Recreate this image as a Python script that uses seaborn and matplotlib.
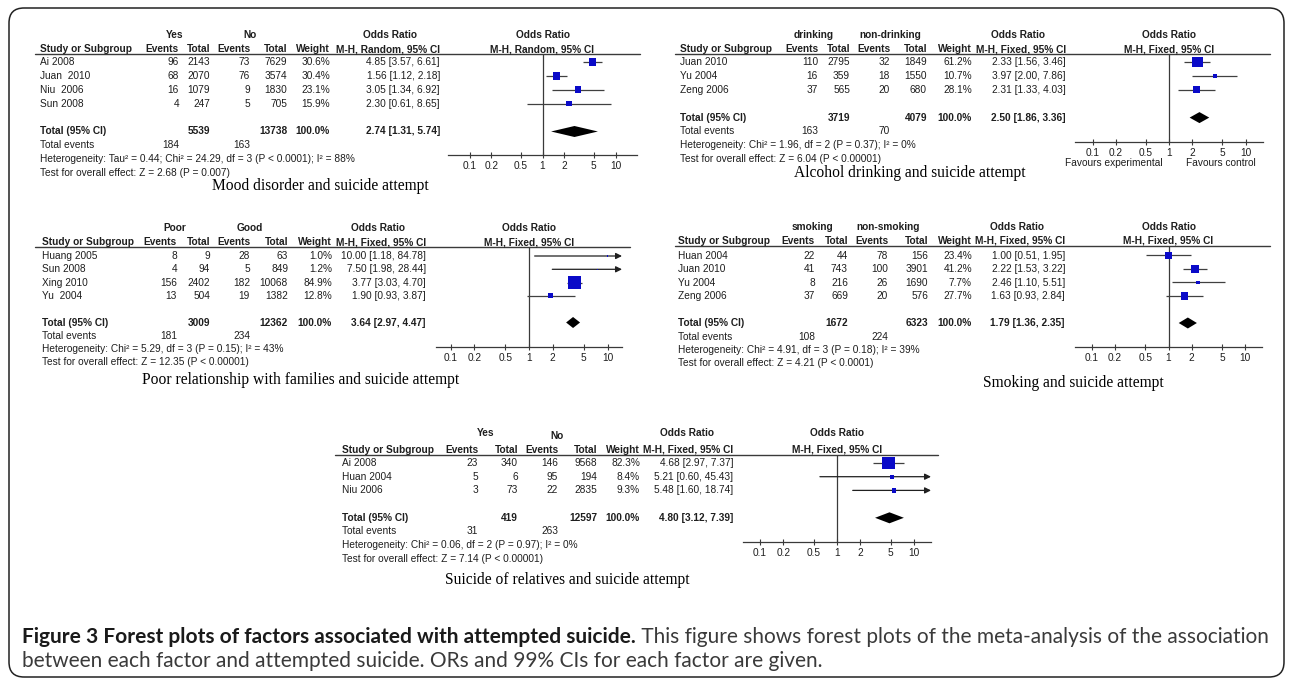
import numpy as np
import pandas as pd
import matplotlib
matplotlib.use("Agg")
import matplotlib.pyplot as plt
import seaborn as sns
from matplotlib.lines import Line2D
from matplotlib.patches import FancyBboxPatch
from matplotlib.ticker import NullLocator

# ---------------- data ----------------
# Mood disorder (random effects)
mood_studies = ["Ai 2008", "Juan  2010", "Niu  2006", "Sun 2008"]
mood_ev1 = [96, 68, 16, 4]
mood_tot1 = [2143, 2070, 1079, 247]
mood_ev2 = [73, 76, 9, 5]
mood_tot2 = [7629, 3574, 1830, 705]
mood_weight = [30.6, 30.4, 23.1, 15.9]
mood_or = [4.85, 1.56, 3.05, 2.30]
mood_lo = [3.57, 1.12, 1.34, 0.61]
mood_hi = [6.61, 2.18, 6.92, 8.65]
mood_totals = [5539, 13738]
mood_events = [184, 163]
mood_pooled = [2.74, 1.31, 5.74]
mood_het = "Heterogeneity: Tau² = 0.44; Chi² = 24.29, df = 3 (P < 0.0001); I² = 88%"
mood_test = "Test for overall effect: Z = 2.68 (P = 0.007)"

# Alcohol drinking
alc_studies = ["Juan 2010", "Yu 2004", "Zeng 2006"]
alc_ev1 = [110, 16, 37]
alc_tot1 = [2795, 359, 565]
alc_ev2 = [32, 18, 20]
alc_tot2 = [1849, 1550, 680]
alc_weight = [61.2, 10.7, 28.1]
alc_or = [2.33, 3.97, 2.31]
alc_lo = [1.56, 2.00, 1.33]
alc_hi = [3.46, 7.86, 4.03]
alc_totals = [3719, 4079]
alc_events = [163, 70]
alc_pooled = [2.50, 1.86, 3.36]
alc_het = "Heterogeneity: Chi² = 1.96, df = 2 (P = 0.37); I² = 0%"
alc_test = "Test for overall effect: Z = 6.04 (P < 0.00001)"

# Poor relationship with families
fam_studies = ["Huang 2005", "Sun 2008", "Xing 2010", "Yu  2004"]
fam_ev1 = [8, 4, 156, 13]
fam_tot1 = [9, 94, 2402, 504]
fam_ev2 = [28, 5, 182, 19]
fam_tot2 = [63, 849, 10068, 1382]
fam_weight = [1.0, 1.2, 84.9, 12.8]
fam_or = [10.00, 7.50, 3.77, 1.90]
fam_lo = [1.18, 1.98, 3.03, 0.93]
fam_hi = [84.78, 28.44, 4.70, 3.87]
fam_totals = [3009, 12362]
fam_events = [181, 234]
fam_pooled = [3.64, 2.97, 4.47]
fam_het = "Heterogeneity: Chi² = 5.29, df = 3 (P = 0.15); I² = 43%"
fam_test = "Test for overall effect: Z = 12.35 (P < 0.00001)"

# Smoking
smk_studies = ["Huan 2004", "Juan 2010", "Yu 2004", "Zeng 2006"]
smk_ev1 = [22, 41, 8, 37]
smk_tot1 = [44, 743, 216, 669]
smk_ev2 = [78, 100, 26, 20]
smk_tot2 = [156, 3901, 1690, 576]
smk_weight = [23.4, 41.2, 7.7, 27.7]
smk_or = [1.00, 2.22, 2.46, 1.63]
smk_lo = [0.51, 1.53, 1.10, 0.93]
smk_hi = [1.95, 3.22, 5.51, 2.84]
smk_totals = [1672, 6323]
smk_events = [108, 224]
smk_pooled = [1.79, 1.36, 2.35]
smk_het = "Heterogeneity: Chi² = 4.91, df = 3 (P = 0.18); I² = 39%"
smk_test = "Test for overall effect: Z = 4.21 (P < 0.0001)"

# Suicide of relatives
rel_studies = ["Ai 2008", "Huan 2004", "Niu 2006"]
rel_ev1 = [23, 5, 3]
rel_tot1 = [340, 6, 73]
rel_ev2 = [146, 95, 22]
rel_tot2 = [9568, 194, 2835]
rel_weight = [82.3, 8.4, 9.3]
rel_or = [4.68, 5.21, 5.48]
rel_lo = [2.97, 0.60, 1.60]
rel_hi = [7.37, 45.43, 18.74]
rel_totals = [419, 12597]
rel_events = [31, 263]
rel_pooled = [4.80, 3.12, 7.39]
rel_het = "Heterogeneity: Chi² = 0.06, df = 2 (P = 0.97); I² = 0%"
rel_test = "Test for overall effect: Z = 7.14 (P < 0.00001)"

total_weight = 100.0
tick_values = [0.1, 0.2, 0.5, 1, 2, 5, 10]
tick_labels = ["0.1", "0.2", "0.5", "1", "2", "5", "10"]

caption_bold = "Figure 3 Forest plots of factors associated with attempted suicide."
caption_rest = " This figure shows forest plots of the meta-analysis of the association"
caption_line2 = "between each factor and attempted suicide. ORs and 99% CIs for each factor are given."

panels = [
    dict(studies=mood_studies, ev1=mood_ev1, tot1=mood_tot1, ev2=mood_ev2, tot2=mood_tot2,
         weight=mood_weight, orr=mood_or, lo=mood_lo, hi=mood_hi, totals=mood_totals,
         events=mood_events, pooled=mood_pooled, het=mood_het, test=mood_test,
         groups=("Yes", "No"), method="M-H, Random, 95% CI",
         title="Mood disorder and suicide attempt"),
    dict(studies=alc_studies, ev1=alc_ev1, tot1=alc_tot1, ev2=alc_ev2, tot2=alc_tot2,
         weight=alc_weight, orr=alc_or, lo=alc_lo, hi=alc_hi, totals=alc_totals,
         events=alc_events, pooled=alc_pooled, het=alc_het, test=alc_test,
         groups=("drinking", "non-drinking"), method="M-H, Fixed, 95% CI",
         title="Alcohol drinking and suicide attempt",
         favours=("Favours experimental", "Favours control")),
    dict(studies=fam_studies, ev1=fam_ev1, tot1=fam_tot1, ev2=fam_ev2, tot2=fam_tot2,
         weight=fam_weight, orr=fam_or, lo=fam_lo, hi=fam_hi, totals=fam_totals,
         events=fam_events, pooled=fam_pooled, het=fam_het, test=fam_test,
         groups=("Poor", "Good"), method="M-H, Fixed, 95% CI",
         title="Poor relationship with families and suicide attempt"),
    dict(studies=smk_studies, ev1=smk_ev1, tot1=smk_tot1, ev2=smk_ev2, tot2=smk_tot2,
         weight=smk_weight, orr=smk_or, lo=smk_lo, hi=smk_hi, totals=smk_totals,
         events=smk_events, pooled=smk_pooled, het=smk_het, test=smk_test,
         groups=("smoking", "non-smoking"), method="M-H, Fixed, 95% CI",
         title="Smoking and suicide attempt"),
    dict(studies=rel_studies, ev1=rel_ev1, tot1=rel_tot1, ev2=rel_ev2, tot2=rel_tot2,
         weight=rel_weight, orr=rel_or, lo=rel_lo, hi=rel_hi, totals=rel_totals,
         events=rel_events, pooled=rel_pooled, het=rel_het, test=rel_test,
         groups=("Yes", "No"), method="M-H, Fixed, 95% CI",
         title="Suicide of relatives and suicide attempt"),
]

# ---------------- layout (pixels from the top-left corner) ----------------
layouts = [
    dict(study_x=40, cols=[179, 210, 250, 287, 330, 440], group_x=[175, 250], group_y=[35, 35],
         or_head_x=390, head_y=49, rule_y=53.5, rule_x=(35, 640), y0=62, pitch=13.9,
         axis=(448, 637, 155), decade=73, title_xy=(320, 186)),
    dict(study_x=680, cols=[818, 850, 890, 927, 972, 1066], group_x=[814, 890], group_y=[35, 35],
         or_head_x=1018, head_y=49, rule_y=53.5, rule_x=(675, 1270), y0=62, pitch=13.9,
         axis=(1075, 1263, 142), decade=76.5, title_xy=(910, 173), favours_y=163),
    dict(study_x=42, cols=[177, 210, 250, 288, 332, 426], group_x=[175, 250], group_y=[228, 228],
         or_head_x=378, head_y=242, rule_y=246.5, rule_x=(35, 630), y0=256, pitch=13.3,
         axis=(436, 622, 347), decade=78.5, title_xy=(301, 380)),
    dict(study_x=678, cols=[815, 848, 888, 928, 972, 1065], group_x=[812, 888], group_y=[227, 227],
         or_head_x=1017, head_y=241, rule_y=246, rule_x=(675, 1270), y0=255.5, pitch=13.5,
         axis=(1075, 1262, 347), decade=76.5, title_xy=(1073, 383)),
    dict(study_x=342, cols=[478, 518, 558, 597, 640, 733], group_x=[486, 557], group_y=[433, 436],
         or_head_x=687, head_y=450, rule_y=455, rule_x=(335, 938), y0=463, pitch=13.7,
         axis=(743, 931, 542), decade=77, title_xy=(567, 580)),
]

W, H = 1292, 683
TXT = "#1e1e1e"
LINE = "#3a3a3a"
BLUE = "#0a0ac8"
FS = 7.3
TABLE_FONT = ["Liberation Sans", "DejaVu Sans"]

sns.set_theme(style="white")
plt.rcParams["font.family"] = ["Liberation Sans", "DejaVu Sans"]

fig = plt.figure(figsize=(W / 100, H / 100), dpi=100)
fig.patch.set_facecolor("white")


def txt(x, y, s, ha="left", bold=False, size=FS, family=None, color=TXT):
    return fig.text(x / W, 1 - y / H, s, ha=ha, va="center", fontsize=size,
                    fontweight="bold" if bold else "normal", color=color,
                    family=family or TABLE_FONT)


def hrule(x0, x1, y, lw=1.0, color=LINE):
    fig.add_artist(Line2D([x0 / W, x1 / W], [1 - y / H, 1 - y / H],
                          transform=fig.transFigure, lw=lw, color=color))


def draw_panel(p, g):
    n = len(p["studies"])
    c = g["cols"]
    ys = [g["y0"] + i * g["pitch"] for i in range(n)]
    y_total = g["y0"] + (n + 1) * g["pitch"]
    y_events = y_total + g["pitch"]
    y_het = y_events + g["pitch"]
    y_test = y_het + g["pitch"]

    # group headers and column headers
    txt(g["group_x"][0], g["group_y"][0], p["groups"][0], ha="center", bold=True)
    txt(g["group_x"][1], g["group_y"][1], p["groups"][1], ha="center", bold=True)
    txt(g["or_head_x"], g["group_y"][0], "Odds Ratio", ha="center", bold=True)
    hy = g["head_y"]
    txt(g["study_x"], hy, "Study or Subgroup", bold=True)
    for xr, lab in zip(c, ["Events", "Total", "Events", "Total", "Weight", p["method"]]):
        txt(xr, hy, lab, ha="right", bold=True)
    hrule(g["rule_x"][0], g["rule_x"][1], g["rule_y"])

    # study rows
    for i in range(n):
        y = ys[i]
        txt(g["study_x"], y, p["studies"][i])
        txt(c[0], y, f"{p['ev1'][i]}", ha="right")
        txt(c[1], y, f"{p['tot1'][i]}", ha="right")
        txt(c[2], y, f"{p['ev2'][i]}", ha="right")
        txt(c[3], y, f"{p['tot2'][i]}", ha="right")
        txt(c[4], y, f"{p['weight'][i]:.1f}%", ha="right")
        txt(c[5], y, f"{p['orr'][i]:.2f} [{p['lo'][i]:.2f}, {p['hi'][i]:.2f}]", ha="right")

    # pooled rows
    pe, plo, phi = p["pooled"]
    txt(g["study_x"], y_total, "Total (95% CI)", bold=True)
    txt(c[1], y_total, f"{p['totals'][0]}", ha="right", bold=True)
    txt(c[3], y_total, f"{p['totals'][1]}", ha="right", bold=True)
    txt(c[4], y_total, f"{total_weight:.1f}%", ha="right", bold=True)
    txt(c[5], y_total, f"{pe:.2f} [{plo:.2f}, {phi:.2f}]", ha="right", bold=True)
    txt(g["study_x"], y_events, "Total events")
    txt(c[0], y_events, f"{p['events'][0]}", ha="right")
    txt(c[2], y_events, f"{p['events'][1]}", ha="right")
    txt(g["study_x"], y_het, p["het"])
    txt(g["study_x"], y_test, p["test"])

    # forest plot axes; y data units are pixel rows so marks line up with the table
    L, R, ay = g["axis"]
    ry = g["rule_y"]
    ax = fig.add_axes([L / W, 1 - ay / H, (R - L) / W, (ay - ry) / H])
    span = (R - L) / 2 / g["decade"]
    xmin, xmax = 10 ** -span, 10 ** span
    ax.set_xscale("log")
    ax.axvline(1, color=LINE, lw=0.9, zorder=1)

    df = pd.DataFrame({"orr": p["orr"], "lo": p["lo"], "hi": p["hi"],
                       "weight": p["weight"], "y": ys})
    for _, r in df.iterrows():
        lo_c = max(r["lo"], xmin)
        if r["hi"] > xmax:
            ax.annotate("", xy=(xmax, r["y"]), xytext=(lo_c, r["y"]),
                        arrowprops=dict(arrowstyle="-|>", lw=0.9, color="#202020",
                                        mutation_scale=9, shrinkA=0, shrinkB=0),
                        zorder=2)
        else:
            ax.hlines(r["y"], lo_c, r["hi"], color="#404040", lw=0.9, zorder=2)
    wmin, wmax = min(p["weight"]), max(p["weight"])
    sns.scatterplot(data=df, x="orr", y="y", size="weight", sizes=(wmin, wmax),
                    size_norm=(wmin, wmax), marker="s", color=BLUE, linewidth=0,
                    legend=False, ax=ax, zorder=3)

    # pooled diamond
    h = 5.5
    ax.fill([plo, pe, phi, pe], [y_total, y_total - h, y_total, y_total + h],
            color="black", lw=0, zorder=3)

    ax.set_xlim(xmin, xmax)
    ax.set_ylim(ay, ry)
    ax.set_xlabel("")
    ax.set_ylabel("")
    ax.set_facecolor("none")
    for s in ["top", "left", "right"]:
        ax.spines[s].set_visible(False)
    ax.spines["bottom"].set_color(LINE)
    ax.spines["bottom"].set_linewidth(0.9)
    ax.set_yticks([])
    ax.set_xticks(tick_values)
    ax.set_xticklabels(tick_labels)
    ax.xaxis.set_minor_locator(NullLocator())
    ax.tick_params(axis="x", direction="inout", length=5, width=0.8, color=LINE,
                   pad=1.5, labelsize=FS, labelcolor=TXT, bottom=True)

    cx = (L + R) / 2
    txt(cx, g["group_y"][0], "Odds Ratio", ha="center", bold=True)
    txt(cx, hy, p["method"], ha="center", bold=True)

    if "favours" in p:
        fy = g["favours_y"]
        txt(cx - 55, fy, p["favours"][0], ha="center")
        txt(cx + 52, fy, p["favours"][1], ha="center")

    tx, ty = g["title_xy"]
    txt(tx, ty, p["title"], ha="center", size=11.2,
        family=["Liberation Serif", "DejaVu Serif"], color="black")


for p, g in zip(panels, layouts):
    draw_panel(p, g)

# frame around the figure
frame = FancyBboxPatch((9 / 100, (H - 677) / 100), (1284 - 9) / 100, (677 - 8) / 100,
                       boxstyle="round,pad=0,rounding_size=0.15",
                       transform=fig.dpi_scale_trans, fill=False,
                       edgecolor="#222222", lw=1.1)
fig.add_artist(frame)

# caption, sized so the first line spans the frame width
cap_font = ["Liberation Sans Narrow", "Lato", "DejaVu Sans"]
c1 = fig.text(22 / W, 1 - 637 / H, caption_bold, ha="left", va="center", fontsize=12,
              fontweight="bold", color="#1a1a1a", family=cap_font)
c2 = fig.text(0, 1 - 637 / H, caption_rest, ha="left", va="center", fontsize=12,
              color="#3a3a3a", family=cap_font)
c3 = fig.text(22 / W, 1 - 661 / H, caption_line2, ha="left", va="center", fontsize=12,
              color="#3a3a3a", family=cap_font)
fig.canvas.draw()
rend = fig.canvas.get_renderer()
w_total = c1.get_window_extent(rend).width + c2.get_window_extent(rend).width
fsz = 12 * (1263 - 22) / w_total
for t in (c1, c2, c3):
    t.set_fontsize(fsz)
fig.canvas.draw()
c2.set_x((22 + c1.get_window_extent(rend).width) / W)

fig.savefig("out.png", dpi=100, facecolor="white")
